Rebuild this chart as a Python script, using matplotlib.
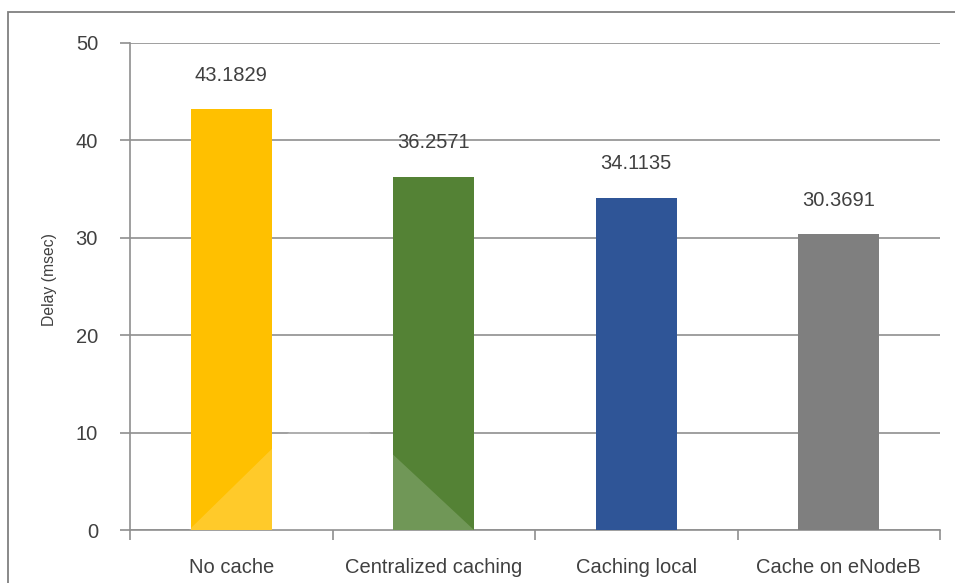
import matplotlib
matplotlib.use("Agg")
import matplotlib.pyplot as plt
from matplotlib.patches import Polygon, Rectangle

categories = ["No cache", "Centralized caching", "Caching local", "Cache on eNodeB"]
delays = [43.1829, 36.2571, 34.1135, 30.3691]
value_labels = ["43.1829", "36.2571", "34.1135", "30.3691"]
bar_colors = ["#FFC000", "#548235", "#2F5597", "#7F7F7F"]
yticks = [0, 10, 20, 30, 40, 50]

plt.rcParams['font.family'] = ['Liberation Sans', 'DejaVu Sans']
text_color = "#404040"
grid_color = "#8f8f8f"

W, H = 955, 583
fig = plt.figure(figsize=(W / 100, H / 100), dpi=100)
ax = fig.add_axes([130 / W, 1 - 530 / H, 810 / W, 487 / H])

x = list(range(len(categories)))
ax.bar(x, delays, width=0.4, color=bar_colors, zorder=3)

for xi, v, lab in zip(x, delays, value_labels):
    ax.annotate(lab, (xi, v), xytext=(0, 34), textcoords='offset pixels',
                ha='center', va='center', fontsize=14.5, color=text_color)

ax.set_xlim(-0.5, 3.5)
ax.set_ylim(0, 50)
ax.set_yticks(yticks)
ax.set_yticklabels([str(t) for t in yticks], fontsize=14.5, color=text_color)
ax.yaxis.grid(True, color=grid_color, linewidth=1.2, zorder=0)
ax.set_axisbelow(True)

# category boundaries get the tick marks, labels sit in between
ax.set_xticks([i - 0.5 for i in range(len(categories) + 1)])
ax.set_xticklabels([])
ax.set_xticks(x, minor=True)
ax.set_xticklabels(categories, minor=True, fontsize=14.5, color=text_color)
ax.tick_params(axis='x', which='major', direction='out', length=7, width=1.2, color=grid_color)
ax.tick_params(axis='x', which='minor', length=0, pad=20)
ax.tick_params(axis='y', direction='out', length=7, width=1.2, color=grid_color, pad=16)

for side in ['top', 'right']:
    ax.spines[side].set_visible(False)
for side in ['left', 'bottom']:
    ax.spines[side].set_color(grid_color)
    ax.spines[side].set_linewidth(1.2)

ax.set_ylabel("Delay (msec)", fontsize=11.3, color=text_color)
ax.yaxis.set_label_coords(-0.09, 0.515)

# outer frame, cut off on the right and bottom
fig.patches.append(Rectangle((8 / W, -0.1), 1.2, 1 - 12 / H + 0.1, transform=fig.transFigure,
                             fill=False, edgecolor="#808080", linewidth=1.3))

# faint watermark shape over the bottom of the first two bars
ax.add_patch(Polygon([(328 / W, 1 - 394 / H), (474 / W, 1 - 530 / H), (189 / W, 1 - 530 / H)],
                     closed=True, transform=fig.transFigure, facecolor="white",
                     edgecolor="none", alpha=0.17, zorder=4))

fig.savefig("out.png", dpi=100)
